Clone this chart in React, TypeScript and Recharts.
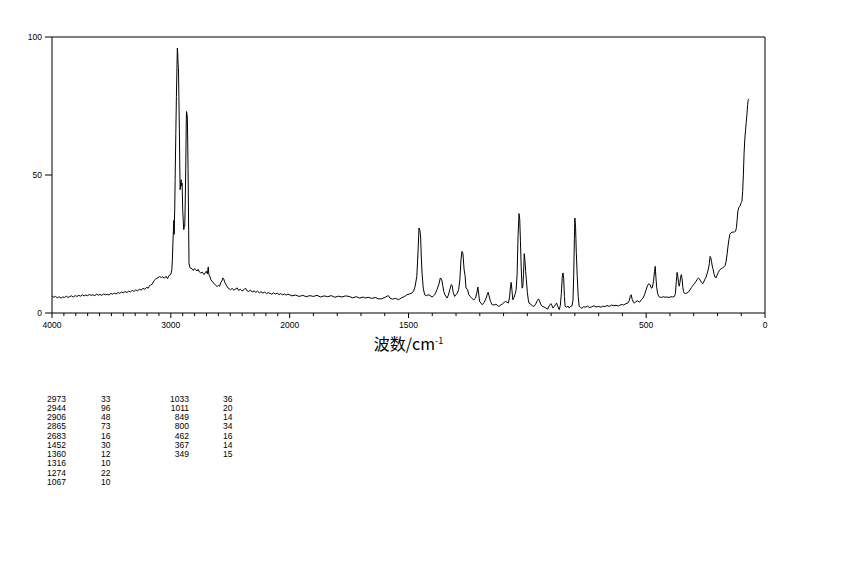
import React from 'react';
import { LineChart, Line, XAxis, YAxis, ReferenceLine } from 'recharts';

// Raman spectrum: wavenumber (cm-1) and intensity
const highWavenumbers = [
  4000, 3985, 3970, 3955, 3940, 3925, 3910, 3895, 3880, 3865,
  3850, 3835, 3820, 3805, 3790, 3775, 3760, 3745, 3730, 3715,
  3700, 3685, 3670, 3655, 3640, 3625, 3610, 3595, 3580, 3565,
  3550, 3535, 3520, 3505, 3490, 3475, 3460, 3445, 3430, 3415,
  3400, 3385, 3370, 3355, 3340, 3325, 3310, 3295, 3280, 3265,
  3250, 3235, 3220, 3205, 3190, 3182, 3170, 3155, 3140, 3126,
  3110, 3095, 3080, 3070, 3055, 3040, 3028, 3015, 3000, 2992,
  2987, 2982, 2978, 2975, 2972, 2970, 2967, 2964, 2958, 2953,
  2948, 2945, 2942, 2938, 2936, 2932, 2928, 2925, 2922, 2918,
  2914, 2910, 2905, 2900, 2895, 2891, 2887, 2883, 2878, 2874,
  2870, 2868, 2864, 2861, 2858, 2855, 2850, 2847, 2840, 2833,
  2820, 2810, 2800, 2791, 2780, 2770, 2760, 2749, 2735, 2721,
  2710, 2702, 2693, 2685, 2680, 2673, 2662, 2652, 2640, 2625,
  2610, 2598, 2590, 2581, 2570, 2562, 2554, 2545, 2534, 2520,
  2510, 2498, 2485, 2470, 2455, 2442, 2430, 2415, 2400, 2385,
  2372, 2360, 2345, 2330, 2315, 2300, 2285, 2270, 2255, 2240,
  2225, 2210, 2195, 2180, 2165, 2150, 2135, 2120, 2105, 2090,
  2075, 2060, 2045, 2030, 2015, 2000,
];
const highIntensities = [
  6.2, 5.7, 6.0, 5.5, 5.9, 5.4, 5.8, 5.6, 6.1, 5.6,
  6.0, 6.2, 5.8, 6.3, 6.0, 6.4, 6.1, 6.6, 6.2, 6.5,
  6.3, 6.7, 6.4, 6.6, 6.3, 6.8, 6.5, 6.7, 6.4, 6.9,
  6.6, 6.8, 6.5, 7.1, 6.8, 7.2, 6.9, 7.4, 7.1, 7.6,
  7.3, 7.8, 7.4, 7.9, 7.6, 8.2, 7.8, 8.4, 8.0, 8.6,
  8.3, 8.9, 8.6, 9.3, 9.0, 9.6, 10.2, 10.5, 11.8, 12.4,
  12.8, 13.2, 12.9, 13.1, 12.6, 13.3, 12.4, 13.6, 14.0, 15.5,
  19.3, 26, 30.2, 33.5, 28.5, 33, 38, 48, 65, 78.5,
  90, 96, 94, 89.5, 89, 78, 66, 55, 44.7, 46,
  48.3, 46, 47, 37.4, 33, 30.2, 31.5, 31.4, 42, 54,
  70, 73, 72, 71, 62, 52, 30, 18, 16.5, 16.3,
  16.0, 15.4, 16.1, 15.7, 15.2, 15.8, 14.9, 14.5, 14.8, 13.9,
  14.6, 15.1, 14.2, 16.7, 14.0, 13.3, 12.0, 11.5, 10.8, 10.1,
  9.6, 10.0, 9.7, 10.9, 11.6, 12.7, 12.2, 11.0, 10.2, 9.1,
  8.8, 8.4, 8.9, 8.3, 8.7, 9.1, 8.2, 8.6, 8.0, 8.4,
  9.0, 8.1, 7.8, 8.3, 7.6, 8.0, 7.5, 7.9, 7.3, 7.7,
  7.2, 7.6, 7.0, 7.4, 7.1, 6.8, 7.3, 6.9, 7.2, 6.7,
  7.0, 6.6, 6.9, 6.5, 6.8, 6.6,
];

const lowWavenumbers = [
  1990, 1975, 1960, 1945, 1930, 1915, 1900, 1885, 1870, 1855,
  1840, 1825, 1810, 1795, 1780, 1765, 1750, 1735, 1720, 1705,
  1690, 1683, 1670, 1655, 1640, 1625, 1613, 1600, 1590, 1585,
  1578, 1568, 1555, 1542, 1530, 1518, 1507, 1496, 1486, 1478,
  1472, 1465, 1460, 1456, 1452, 1449, 1446, 1443, 1438, 1432,
  1425, 1418, 1410, 1401, 1395, 1390, 1385, 1380, 1372, 1366,
  1360, 1356, 1352, 1346, 1338, 1332, 1326, 1320, 1316, 1312,
  1306, 1300, 1295, 1289, 1284, 1279, 1275, 1271, 1266, 1262,
  1258, 1252, 1246, 1240, 1232, 1225, 1218, 1212, 1208, 1204,
  1201, 1195, 1190, 1182, 1175, 1168, 1165, 1161, 1155, 1148,
  1140, 1132, 1125, 1120, 1112, 1105, 1098, 1092, 1085, 1080,
  1075, 1071, 1068, 1065, 1061, 1056, 1051, 1047, 1043, 1039,
  1035, 1032, 1029, 1026, 1022, 1019, 1016, 1013, 1010, 1007,
  1004, 1000, 996, 993, 985, 978, 972, 965, 958, 953,
  949, 944, 937, 930, 922, 915, 908, 901, 896, 892,
  887, 882, 877, 872, 866, 861, 857, 853, 850, 847,
  844, 841, 835, 829, 824, 818, 812, 808, 805, 802,
  800, 797, 794, 790, 786, 782, 776, 770, 763, 755,
  747, 739, 730, 720, 710, 700, 690, 683, 674, 665,
  655, 645, 636, 627, 617, 605, 595, 585, 577, 571,
  567, 563, 559, 553, 549, 543, 535, 528, 520, 514,
  507, 501, 495, 489, 483, 478, 474, 469, 465, 462,
  459, 456, 452, 448, 444, 436, 428, 420, 412, 404,
  396, 388, 381, 377, 373, 370, 367, 364, 361, 358,
  355, 352, 349, 346, 343, 340, 334, 328, 322, 316,
  310, 304, 297, 290, 285, 280, 276, 271, 266, 262,
  258, 253, 248, 243, 238, 234, 231, 228, 225, 221,
  218, 214, 210, 206, 202, 197, 191, 185, 179, 173,
  168, 164, 160, 156, 152, 148, 144, 139, 133, 128,
  124, 120, 117, 114, 110, 105, 100, 97, 94, 91,
  88, 85, 82, 79, 76, 73, 71, 69,
];
const lowIntensities = [
  6.2, 6.5, 6.0, 6.4, 5.9, 6.3, 6.0, 6.4, 5.8, 6.2,
  5.9, 6.3, 5.7, 6.1, 5.8, 6.2, 6.0, 5.5, 5.9, 5.4,
  5.8, 5.4, 5.7, 5.3, 5.6, 5.1, 5.2, 5.6, 6.1, 6.3,
  5.4, 5.0, 5.3, 4.8, 5.5, 5.9, 6.6, 6.9, 7.2, 8.0,
  9.7, 13.3, 22, 30.8, 30, 27.5, 20, 14.5, 9.0, 6.6,
  6.3, 6.6, 6.4, 5.8, 6.2, 6.6, 7.5, 8.5, 10.5, 12.7,
  12.0, 10.0, 7.9, 6.5, 5.4, 6.5, 8.5, 10.3, 9.8, 7.5,
  6.0, 6.6, 7.2, 8.5, 12.0, 19.5, 22.3, 21.5, 15.7, 13.5,
  9.0, 8.6, 6.6, 6.0, 5.2, 4.8, 5.4, 7.5, 9.4, 6.5,
  4.2, 3.6, 3.0, 3.8, 5.0, 6.8, 7.5, 6.2, 4.2, 3.0,
  2.9, 3.2, 2.7, 2.4, 2.9, 3.3, 3.8, 4.2, 3.9, 3.6,
  5.5, 9.5, 11.1, 8.5, 4.8, 5.6, 7.0, 8.5, 14, 28,
  36, 34, 26, 17, 9.0, 9.5, 14, 21.5, 19, 15,
  12, 7.5, 4.8, 3.6, 3.1, 2.6, 2.4, 3.2, 4.5, 5.1,
  4.4, 3.2, 2.4, 2.2, 1.8, 1.4, 2.6, 3.4, 2.6, 1.8,
  2.3, 3.0, 3.6, 2.4, 1.2, 2.8, 7, 13, 14.5, 12.5,
  6, 2.4, 2.1, 2.5, 1.8, 2.4, 2.6, 4.5, 13, 27,
  34.4, 31, 22, 13.3, 6.0, 2.4, 2.0, 1.7, 2.3, 2.1,
  2.5, 2.0, 2.2, 2.6, 2.2, 2.4, 2.1, 2.5, 2.3, 2.7,
  2.4, 2.9, 2.6, 2.8, 2.5, 3.1, 2.9, 3.4, 3.6, 4.5,
  6.0, 6.6, 5.0, 3.8, 3.6, 4.2, 4.4, 3.9, 4.8, 5.3,
  6.6, 8.2, 9.8, 10.6, 10.2, 9.0, 9.2, 11.5, 15, 16.9,
  13, 9.5, 7.2, 6.2, 5.8, 5.6, 5.9, 5.7, 5.8, 5.6,
  5.9, 5.8, 6.0, 7.0, 11.5, 14.7, 13.5, 11.0, 9.7, 11.0,
  13.0, 13.9, 12.5, 9.5, 7.8, 7.2, 7.0, 7.3, 7.6, 8.3,
  9.2, 9.9, 10.6, 11.5, 12.2, 12.7, 12.4, 11.6, 11.0, 10.6,
  11.2, 12.2, 13.0, 14.4, 16.0, 18.0, 20.5, 20.0, 18.6, 16.6,
  15.7, 14.0, 13.0, 12.7, 13.6, 14.6, 15.5, 16.0, 16.3, 16.7,
  17.2, 18.5, 21.0, 24.0, 26.5, 28.5, 29.0, 29.3, 29.3, 29.4,
  29.6, 31.0, 34.0, 37.0, 38.2, 38.8, 40.0, 40.5, 44.0, 50.0,
  58.0, 63.0, 66.0, 69.0, 72.0, 75.5, 77.0, 77.5,
];

// Axis ticks (wavenumbers); labelled ones listed separately
const xTickWavenumbers = [
  4000, 3900, 3800, 3700, 3600, 3500, 3400, 3300, 3200, 3100,
  3000, 2900, 2800, 2700, 2600, 2500, 2400, 2300, 2200, 2100,
  2000, 1900, 1800, 1700, 1600, 1500, 1400, 1300, 1200, 1100,
  1000, 900, 800, 700, 600, 500, 400, 300, 200, 100, 0,
];
const xLabelWavenumbers = [4000, 3000, 2000, 1500, 500, 0];
const yTicks = [0, 50, 100];

// Peak table
const peakTableLeftWn = [2973, 2944, 2906, 2865, 2683, 1452, 1360, 1316, 1274, 1067];
const peakTableLeftI = [33, 96, 48, 73, 16, 30, 12, 10, 22, 10];
const peakTableRightWn = [1033, 1011, 849, 800, 462, 367, 349];
const peakTableRightI = [36, 20, 14, 34, 16, 14, 15];

// Axis is compressed above 2000 cm-1 (half scale)
const toU = (wn: number) => (wn <= 2000 ? wn * 2 : wn + 2000);
const fromU = (u: number) => (u <= 4000 ? u / 2 : u - 2000);

const data = [
  ...highWavenumbers.map((wn, i) => ({ u: toU(wn), v: highIntensities[i] })),
  ...lowWavenumbers.map((wn, i) => ({ u: toU(wn), v: lowIntensities[i] })),
];
const xTicks = xTickWavenumbers.map(toU);

const FONT = '"Liberation Sans", Arial, sans-serif';
const NARROW = '"Liberation Sans Narrow", "Liberation Sans", Arial, sans-serif';

const XTick = (props: any) => {
  const { x, y, payload } = props;
  const wn = Math.round(fromU(payload.value));
  const major = xLabelWavenumbers.includes(wn);
  return (
    <g>
      <line x1={x} y1={y} x2={x} y2={y + (major ? 5 : 3)} stroke="#000" strokeWidth={1} />
      {major && (
        <text x={x} y={y + 15} textAnchor="middle" fontSize={8.5} fontFamily={FONT} fill="#000">
          {wn}
        </text>
      )}
    </g>
  );
};

const tableText: React.CSSProperties = {
  position: 'absolute',
  fontFamily: NARROW,
  fontSize: 8.5,
  lineHeight: '9px',
  color: '#000',
  whiteSpace: 'nowrap',
};

export default function App() {
  const rowTop = (i: number) => 394.5 + i * 9.25;
  return (
    <div style={{ position: 'absolute', left: 0, top: 0, width: 850, height: 567, background: '#fff' }}>
      <LineChart
        width={850}
        height={567}
        data={data}
        margin={{ top: 37, right: 85, bottom: 224, left: 22 }}
      >
        <XAxis
          type="number"
          dataKey="u"
          domain={[0, 6000]}
          reversed
          ticks={xTicks}
          interval={0}
          height={30}
          tickSize={0}
          tickMargin={0}
          tickLine={false}
          axisLine={{ stroke: '#000' }}
          tick={(p: any) => <XTick {...p} />}
        />
        <YAxis
          type="number"
          domain={[0, 100]}
          ticks={yTicks}
          width={30}
          tickSize={7}
          tickMargin={3}
          tickLine={{ stroke: '#000' }}
          axisLine={{ stroke: '#000' }}
          tick={{ fontSize: 8.5, fill: '#000', fontFamily: FONT }}
        />
        <ReferenceLine y={100} stroke="#000" strokeWidth={1} />
        <ReferenceLine x={0} stroke="#000" strokeWidth={1} />
        <Line
          type="linear"
          dataKey="v"
          stroke="#000"
          strokeWidth={1}
          dot={false}
          isAnimationActive={false}
        />
      </LineChart>
      <div
        style={{
          position: 'absolute',
          left: 0,
          width: 817,
          top: 331,
          textAlign: 'center',
          fontFamily: '"Noto Sans CJK SC", sans-serif',
          fontSize: 16,
          lineHeight: '20px',
          color: '#000',
        }}
      >
        波数/cm<sup style={{ fontSize: 9 }}>-1</sup>
      </div>
      {peakTableLeftWn.map((wn, i) => (
        <React.Fragment key={'l' + i}>
          <div style={{ ...tableText, top: rowTop(i), right: 850 - 66, textAlign: 'right' }}>{wn}</div>
          <div style={{ ...tableText, top: rowTop(i), left: 101 }}>{peakTableLeftI[i]}</div>
        </React.Fragment>
      ))}
      {peakTableRightWn.map((wn, i) => (
        <React.Fragment key={'r' + i}>
          <div style={{ ...tableText, top: rowTop(i), right: 850 - 189, textAlign: 'right' }}>{wn}</div>
          <div style={{ ...tableText, top: rowTop(i), left: 223 }}>{peakTableRightI[i]}</div>
        </React.Fragment>
      ))}
    </div>
  );
}
